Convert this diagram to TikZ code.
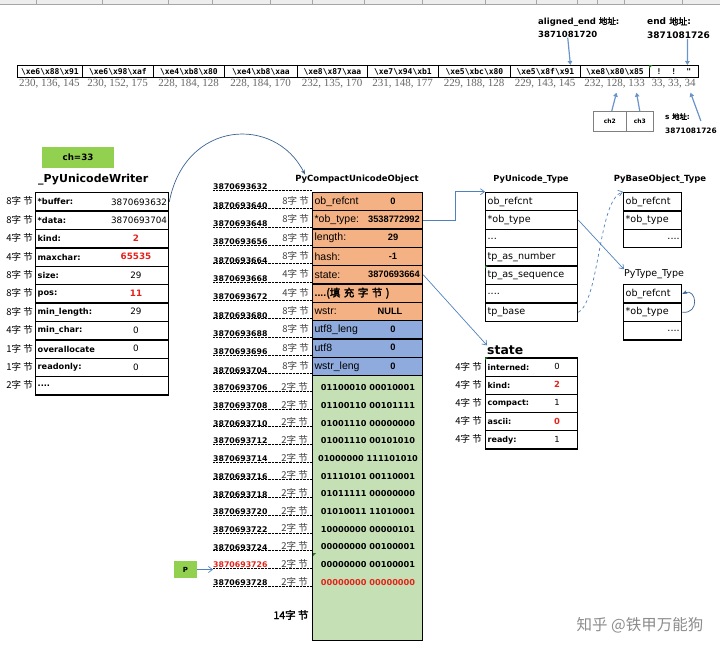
\documentclass[tikz,border=0pt]{standalone}
\usepackage{fontspec}
\setmainfont{DejaVu Sans}
\newfontfamily\cjk[AutoFakeBold=2.5]{Noto Sans CJK SC}
\newfontfamily\arialf{Liberation Sans}
\newfontfamily\timesf{Liberation Serif}
\newfontfamily\monof{DejaVu Sans Mono}
\usetikzlibrary{arrows.meta,positioning,calc}
\definecolor{fieldorange}{HTML}{F4B183}
\definecolor{fieldblue}{HTML}{8FAADC}
\definecolor{fieldgreen}{HTML}{C5E0B4}
\definecolor{taggreen}{HTML}{92D050}
\definecolor{linkblue}{HTML}{4F81BD}
\definecolor{curveblue}{HTML}{3A6491}
\definecolor{hotred}{HTML}{E2231A}
\definecolor{notegreen}{HTML}{1E7B1E}
\newcommand{\bsl}{\char92 }
\newcommand{\fs}[1]{\fontsize{#1}{#1}\selectfont}
\newcommand{\hot}[1]{\textcolor{hotred}{\bfseries #1}}
\newcommand{\dthree}{...}
\newcommand{\dfour}{....}
\tikzset{
  wfield/.style={draw=black,line width=1.3pt,anchor=north west,text width=129pt,minimum height=18.4pt,inner xsep=2pt,inner ysep=0pt,align=left,font=\fs{8.2}\bfseries},
  cfield/.style={draw=black,line width=1.3pt,anchor=north west,text width=106pt,minimum height=18.33pt,inner xsep=2pt,inner ysep=0pt,align=left,font=\arialf\fs{10.5}},
  tfield/.style={draw=black,line width=1.3pt,anchor=north west,text width=#1,minimum height=18.4pt,inner xsep=2pt,inner ysep=0pt,align=left,font=\fs{9.6}},
  sfield/.style={draw=black,line width=1.3pt,anchor=north west,text width=88pt,minimum height=18.2pt,inner xsep=2pt,inner ysep=0pt,align=left,font=\fs{8}\bfseries},
  sizelab/.style={anchor=east,inner sep=0pt,font=\cjk\fs{9.5}},
  addr/.style={anchor=south west,inner sep=0pt,font=\fs{7.8}\bfseries},
  val/.style={inner sep=0pt,font=\fs{8.8}},
  cval/.style={inner sep=0pt,font=\arialf\fs{9.3}\bfseries},
  bitrow/.style={inner sep=0pt,font=\fs{8.2}\bfseries},
  headtxt/.style={inner sep=0pt,font=\bfseries\fs{#1}},
  link/.style={draw=linkblue,line width=.7pt,-{Straight Barb[length=4pt,width=6pt]}},
  tag/.style={draw=linkblue!85,line width=1.2pt,-{Triangle[length=4pt,width=4.5pt]}},
  bytecell/.style={draw=black,line width=.8pt,minimum height=12pt,inner sep=0pt,anchor=north west,font=\monof\bfseries\fs{8}},
  bytenum/.style={inner sep=0pt,font=\timesf\fs{11},text=black!60},
  greenbox/.style={fill=taggreen,inner sep=0pt,font=\bfseries\fs{#1}},
  dotline/.style={line width=.6pt,dash pattern=on .6pt off .8pt},
  xlmark/.style={fill=notegreen},
}
\begin{document}
\begin{tikzpicture}[x=1pt,y=-1pt]
\useasboundingbox (0,0) rectangle (720,654);
% sheet header
\fill[black!7] (0,0) rectangle (720,4);
\draw[black!35,line width=.5pt] (0,4) -- (720,4);
\foreach \gx in {36,102,168,212,270,312,364,422,485,536,577,597,624,682}
  \draw[black!35,line width=.5pt] (\gx,0) -- (\gx,4);

% utf-8 bytes
\foreach \xl/\w/\code/\nums [count=\i] in {%
  17/65/{\bsl xe6\bsl x88\bsl x91}/{230, 136, 145},
  82/71/{\bsl xe6\bsl x98\bsl xaf}/{230, 152, 175},
  153/71/{\bsl xe4\bsl xb8\bsl x80}/{228, 184, 128},
  224/73/{\bsl xe4\bsl xb8\bsl xaa}/{228, 184, 170},
  297/70/{\bsl xe8\bsl x87\bsl xaa}/{232, 135, 170},
  367/71/{\bsl xe7\bsl x94\bsl xb1}/{231, 148, 177},
  438/72/{\bsl xe5\bsl xbc\bsl x80}/{229, 188, 128},
  510/70/{\bsl xe5\bsl x8f\bsl x91}/{229, 143, 145},
  580/69/{\bsl xe8\bsl x80\bsl x85}/{232, 128, 133},
  649/49/{!\hspace{10pt}!\hspace{10pt}"}/{33, 33, 34}}
{
  \node[bytecell,minimum width={\w*1pt}] (b\i) at (\xl,65) {\code};
  \node[bytenum] (n\i) at ({\xl+\w/2},84) {\nums};
}
\fill[xlmark] (649,65) -- ++(3.5,0) -- ++(-3.5,3.5) -- cycle;

\node[anchor=north west,inner sep=0pt,align=left,font=\bfseries\fontsize{8.5}{13}\selectfont] (alab) at (538,17) {aligned\_end {\cjk 地址}:\\3871081720};
\node[anchor=north west,inner sep=0pt,align=left,font=\bfseries\fontsize{9}{14}\selectfont] (elab) at (647,17) {end {\cjk 地址}:\\3871081726};
\node[anchor=north west,inner sep=0pt,align=left,font=\bfseries\fontsize{7.4}{14}\selectfont] (slab) at (665,113) {s {\cjk 地址}:\\3871081726};
\node[draw=black!50,line width=.5pt,minimum width=33pt,minimum height=20pt,inner sep=0pt,font=\bfseries\fs{6},anchor=north west] (ch2) at (593,111) {ch2};
\node[draw=black!50,line width=.5pt,minimum width=27pt,minimum height=20pt,inner sep=0pt,font=\bfseries\fs{6},anchor=north west] (ch3) at (626,111) {ch3};
\draw[tag] ([xshift=-11pt]alab.south) -- ([xshift=25pt]b8.north);
\draw[tag] ([xshift=9pt]elab.south) -- ([xshift=13.5pt]b10.north);
\draw[tag] ([xshift=2pt]ch2.north) -- ([xshift=2pt,yshift=-4pt]n9.south);
\draw[tag] (ch3.north) -- ([xshift=22pt,yshift=-4pt]n9.south);
\draw[tag] ([xshift=-16pt,yshift=-8pt]slab.north east) -- ([xshift=17pt,yshift=-4pt]n10.south);

% _PyUnicodeWriter
\node[greenbox=8.7,minimum width=72pt,minimum height=21pt] (chv) at (78,157.5) {ch=33};
\node[headtxt=11,anchor=west] (wtitle) at (38,180) {\_PyUnicodeWriter};
\foreach \lab/\val/\sz [count=\i] in {%
  {*buffer:}/3870693632/8, {*data:}/3870693704/8, {kind:}/{\hot{2}}/4,
  {maxchar:}/{\hot{65535}}/4, {size:}/29/8, {pos:}/{\hot{11}}/8,
  {min\_length:}/29/8, {min\_char:}/0/4, overallocate/0/1,
  {readonly:}/0/1, \dfour/{}/2}
{
  \node[wfield] (w\i) at (35,{192+18.4*(\i-1)}) {\lab};
  \node[sizelab] (ws\i) at (33,{201.2+18.4*(\i-1)}) {\sz{}字 节};
  \ifnum\i<3
    \node[val,anchor=east] (wv\i) at ([xshift=-2pt]w\i.east) {\val};
  \else
    \node[val] (wv\i) at (136,{201.2+18.4*(\i-1)}) {\val};
  \fi
}

% PyCompactUnicodeObject
\node[headtxt=8.5] (ctitle) at (357,179) {PyCompactUnicodeObject};
\foreach \lab/\val/\sz/\fc/\va/\vx [count=\i] in {%
  ob\_refcnt/0/8/fieldorange/center/393,
  {*ob\_type:}/3538772992/8/fieldorange/east/420,
  {length:}/29/8/fieldorange/center/393,
  {hash:}/-1/8/fieldorange/center/393,
  {state:}/3870693664/4/fieldorange/east/420,
  {\bfseries\dfour{\cjk (填 充 字 节 )}}/{}/4/fieldorange/center/393,
  {wstr:}/NULL/8/fieldorange/center/390,
  utf8\_leng/0/8/fieldblue/center/393,
  utf8/0/8/fieldblue/center/393,
  wstr\_leng/0/8/fieldblue/center/393}
{
  \node[cfield,fill=\fc] (c\i) at (312,{191.7+18.33*(\i-1)}) {\lab};
  \node[sizelab,text=black!75] (cs\i) at (309,{200.9+18.33*(\i-1)}) {\sz{}字 节};
  \node[cval,anchor=\va] (cv\i) at (\vx,{200.9+18.33*(\i-1)}) {\val};
}
\foreach \ad [count=\k] in {3870693632,3870693640,3870693648,3870693656,3870693664,
  3870693668,3870693672,3870693680,3870693688,3870693696,3870693704}
{
  \node[addr] (ad\k) at (213,{191.7+18.33*(\k-1)-1.5}) {\ad};
  \draw[dotline] (ad\k.south west) -- ++(99,0);
}
\node[draw=black,line width=1.3pt,fill=fieldgreen,anchor=north west,minimum width=110pt,minimum height=265pt,inner sep=0pt] (gbuf) at (312,375) {};
\foreach \bits/\ad [count=\k] in {%
  {01100010 00010001}/3870693706, {01100110 00101111}/3870693708,
  {01001110 00000000}/3870693710, {01001110 00101010}/3870693712,
  {01000000 111101010}/3870693714, {01110101 00110001}/3870693716,
  {01011111 00000000}/3870693718, {01010011 11010001}/3870693720,
  {10000000 00000101}/3870693722, {00000000 00100001}/3870693724,
  {00000000 00100001}/{\textcolor{hotred}{3870693726}},
  {\textcolor{hotred}{00000000 00000000}}/3870693728}
{
  \node[addr] (ga\k) at (213,{375+17.7*\k-1.5}) {\ad};
  \draw[dotline] (ga\k.south west) -- ++(99,0);
  \node[sizelab,text=black!75] (gs\k) at (308,{375+17.7*\k-6}) {2字 节};
  \node[bitrow] (gb\k) at (368,{375+17.7*\k-5}) {\bits};
}
\fill[xlmark] (313,553) -- ++(3,0) -- ++(-3,3) -- cycle;
\node[inner sep=0pt,font=\cjk\bfseries\fs{10.5}] (gtail) at (291,615) {14字 节};
\node[greenbox=7,minimum width=23pt,minimum height=17pt] (pbox) at (185.5,569.5) {P};
\draw[link] (pbox.east) -- (pbox.east -| ga11.west);
\draw[link,draw=curveblue,-{Stealth[length=5pt]}] (w1.east) .. controls (185,120) and (275,115) .. ([xshift=10pt]ctitle.north west);

% PyUnicode_Type
\node[headtxt=8.3] (uttitle) at (531,179) {PyUnicode\_Type};
\foreach \lab [count=\i] in {ob\_refcnt,*ob\_type,\dthree,tp\_as\_number,tp\_as\_sequence,\dfour,tp\_base}
  \node[tfield=88pt] (ut\i) at (485,{191.7+18.45*(\i-1)}) {\lab};
\fill[xlmark] (485,265.5) -- ++(3,0) -- ++(-3,3) -- cycle;

% PyBaseObject_Type
\node[headtxt=8.5] (bttitle) at (660,179) {PyBaseObject\_Type};
\foreach \lab [count=\i] in {ob\_refcnt,*ob\_type,\hfill\dfour\hfill}
  \node[tfield=54pt] (bo\i) at (623,{191.7+18.5*(\i-1)}) {\lab};

% PyType_Type
\node[inner sep=0pt,font=\fs{9.5}] (tttitle) at (654,274) {PyType\_Type};
\foreach \lab [count=\i] in {ob\_refcnt,*ob\_type,\hfill\dfour\hfill}
  \node[tfield=54pt] (tt\i) at (623,{284+18.4*(\i-1)}) {\lab};

% state
\node[headtxt=12.4,anchor=west] (stitle) at (487,350) {state};
\foreach \lab/\val [count=\i] in {interned:/0, kind:/{\hot{2}}, compact:/1, ascii:/{\hot{0}}, ready:/1}
{
  \node[sfield] (st\i) at (485,{357.3+18.2*(\i-1)}) {\lab};
  \node[val,font=\fs{8.4}] (sv\i) at (557,{366.4+18.2*(\i-1)}) {\val};
  \node[sizelab] (ss\i) at (482,{366.4+18.2*(\i-1)}) {4字 节};
}
\fill[xlmark] (485,357.3) -- ++(3,0) -- ++(-3,3) -- cycle;

% links
\draw[link] (c2.east) -- ++(32,0) |- (ut1.north west);
\draw[link] (c5.east) -- (stitle.north west);
\draw[link] (ut2.east) -- (tttitle.north west);
\draw[link,dashed] (ut7.east) .. controls (600,300) and (598,200) .. (bo1.north west);
\draw[link,draw=curveblue,-{Stealth[length=5pt]}] (tt2.east) .. controls +(18,2) and +(14,-6) .. (tt1.east);

% watermark
\node[inner sep=0pt,font=\cjk\fs{15.5},text=black!45] (mark) at (640,625) {知乎 @铁甲万能狗};
\end{tikzpicture}
\end{document}
